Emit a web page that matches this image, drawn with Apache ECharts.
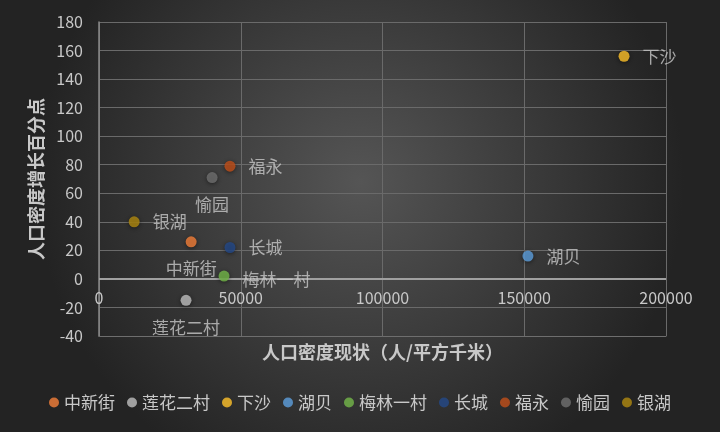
<!DOCTYPE html>
<html><head><meta charset="utf-8">
<script src="https://cdn.jsdelivr.net/npm/echarts@6/dist/echarts.min.js"></script>
<style>html,body{margin:0;padding:0;background:#333;}#c{width:720px;height:432px;}</style>
</head><body><div id="c"></div>
<script>
const names = ['中新街','莲花二村','下沙','湖贝','梅林一村','长城','福永','愉园','银湖'];
const densityNow = [32500, 30700, 185200, 151300, 44100, 46200, 46200, 39900, 12400];
const densityGrowth = [26, -15, 156, 16, 2, 22, 79, 71, 40];
const xTicks = [0, 50000, 100000, 150000, 200000];
const yTicks = [-40, -20, 0, 20, 40, 60, 80, 100, 120, 140, 160, 180];

const colors = ['#F47F3A','#BFBFBF','#FFC22A','#5EA0DE','#74B84A','#244A8A','#C2501A','#707070','#B08A10'];
const labelSide = {'中新街':'bottom','莲花二村':'bottom','愉园':'bottom'};
const font = '"Noto Sans CJK SC","Noto Sans",sans-serif';
const series = names.map((n,i)=>{
  const side = labelSide[n] || 'right';
  const s = {
    name:n, type:'scatter', symbolSize:11,
    itemStyle:{color:colors[i], shadowBlur:4, shadowColor:'rgba(0,0,0,0.6)', shadowOffsetY:1},
    label:{show:true, formatter:n, color:'#c8c8c8', fontSize:17, fontFamily:font,
      position:side, distance:13, offset: n==='梅林一村' ? [0,3] : [0,0]},
    data:[[densityNow[i], densityGrowth[i]]],
    z: 3
  };
  if (i===0) {
    s.markLine = {silent:true, symbol:'none', label:{show:false},
      lineStyle:{color:'#a0a0a0', width:2, type:'solid'}, data:[{yAxis:0}], z:1};
  }
  return s;
});
const chart = echarts.init(document.getElementById('c'));
chart.setOption({
  backgroundColor:{type:'radial', x:0.5, y:0.42, r:0.75, colorStops:[{offset:0,color:'#555555'},{offset:1,color:'#232323'}]},
  textStyle:{fontFamily:font},
  grid:{left:99, right:54, top:22, bottom:96},
  legend:{bottom:16, left:'center', itemWidth:10, itemHeight:10, itemGap:12, icon:'circle',
    textStyle:{color:'#c8c8c8', fontSize:17, fontFamily:font}, data:names},
  xAxis:{type:'value', min:0, max:200000, interval:50000,
    axisLine:{show:true, onZero:false, lineStyle:{color:'#6e6e6e', width:1}},
    axisTick:{show:false},
    axisLabel:{color:'#c8c8c8', fontSize:16, margin:-46, fontFamily:font, formatter:v=>String(v)},
    splitLine:{show:true, lineStyle:{color:'#6a6a6a'}},
    name:'人口密度现状（人/平方千米）', nameLocation:'middle', nameGap:7,
    nameTextStyle:{color:'#c8c8c8', fontSize:18, fontWeight:'bold', fontFamily:font, verticalAlign:'top'}},
  yAxis:{type:'value', min:-40, max:180, interval:20,
    axisLine:{show:true, onZero:false, lineStyle:{color:'#8a8a8a', width:1.5}},
    axisTick:{show:false},
    axisLabel:{color:'#c8c8c8', fontSize:16, margin:16, fontFamily:font},
    splitLine:{show:true, lineStyle:{color:'#6a6a6a'}},
    name:'人口密度增长百分点', nameLocation:'middle', nameGap:52, nameRotate:90,
    nameTextStyle:{color:'#c8c8c8', fontSize:18, fontWeight:'bold', fontFamily:font}},
  series: series
});
</script></body></html>
